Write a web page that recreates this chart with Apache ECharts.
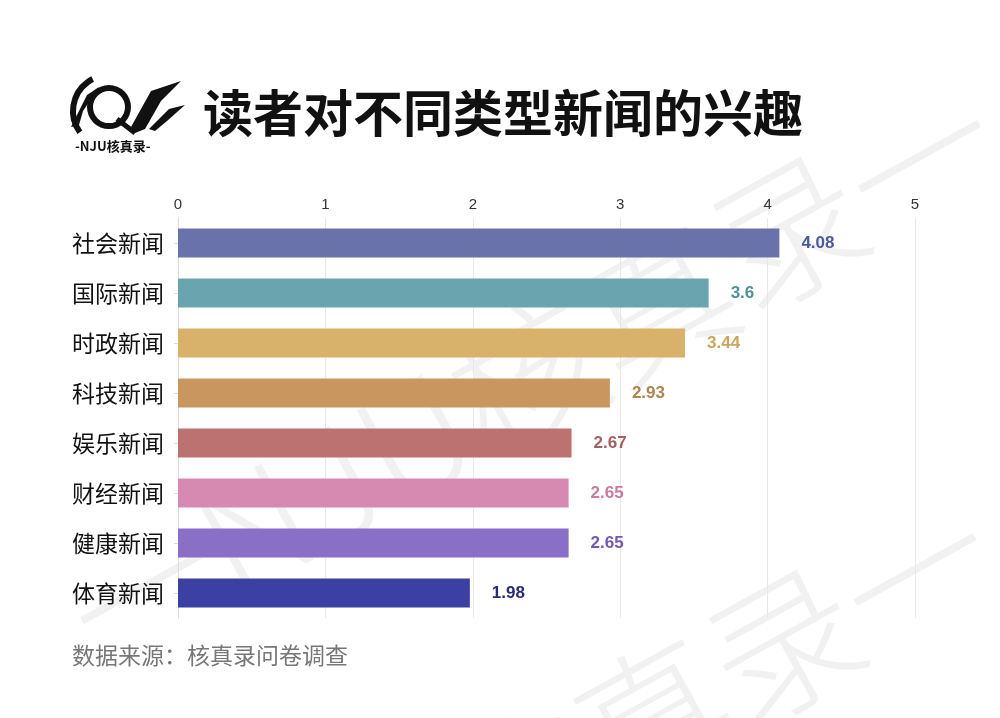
<!DOCTYPE html>
<html>
<head>
<meta charset="utf-8">
<style>
html,body{margin:0;padding:0;background:#fff;}
#chart{width:1000px;height:718px;}
</style>
<script src="https://cdn.jsdelivr.net/npm/echarts@6/dist/echarts.min.js"></script>
</head>
<body>
<div id="chart"></div>
<script>
const categories = ['社会新闻','国际新闻','时政新闻','科技新闻','娱乐新闻','财经新闻','健康新闻','体育新闻'];
const values = [4.08, 3.6, 3.44, 2.93, 2.67, 2.65, 2.65, 1.98];
const barColors = ['#6a72ab','#6aa4ae','#d8b26a','#c9965f','#bd7272','#d68ab2','#8a6fc6','#3c40a2'];
const labelColors = ['#4b5a9c','#4f9299','#c9a65c','#b08551','#a65f60','#c97aa1','#7556b0','#262c78'];
const xTicks = [0, 1, 2, 3, 4, 5];
const titleText = '读者对不同类型新闻的兴趣';
const sourceText = '数据来源：核真录问卷调查';

const chart = echarts.init(document.getElementById('chart'));
const cjk = '"Noto Sans CJK SC", sans-serif';

chart.setOption({
  backgroundColor: '#ffffff',
  animation: false,
  grid: { left: 178, right: 85, top: 218, bottom: 100 },
  xAxis: {
    type: 'value',
    position: 'top',
    min: xTicks[0],
    max: xTicks[xTicks.length - 1],
    interval: 1,
    axisLine: { show: false },
    axisTick: { show: false },
    axisLabel: { color: '#333', fontSize: 15, fontFamily: 'Liberation Sans, Arial, sans-serif', margin: 6 },
    splitLine: { show: true, lineStyle: { color: '#e8e8e8', width: 1 } }
  },
  yAxis: {
    type: 'category',
    data: categories,
    inverse: true,
    axisLine: { show: true, lineStyle: { color: '#dcdcdc' } },
    axisTick: { show: true, length: 4, alignWithLabel: true, lineStyle: { color: '#dcdcdc' } },
    axisLabel: { color: '#111', fontSize: 23, fontFamily: cjk, margin: 14 }
  },
  series: [{
    type: 'bar',
    data: values.map((v, i) => ({ value: v, itemStyle: { color: barColors[i] },
      label: { color: labelColors[i] } })),
    barWidth: 29,
    z: 3,
    label: {
      show: true,
      position: 'right',
      distance: 22,
      fontSize: 17,
      fontWeight: 'bold',
      fontFamily: 'Liberation Sans, Arial, sans-serif'
    }
  }],
  graphic: [
    // watermarks
    { type: 'text', z: -10, silent: true,
      x: 40, y: 560, rotation: Math.PI * 29 / 180,
      style: { text: '一NJU核真录一', font: '300 150px "Noto Sans CJK SC"', fill: 'rgba(0,0,0,0.055)' } },
    { type: 'text', z: -10, silent: true,
      x: 420, y: 760, rotation: Math.PI * 29 / 180,
      style: { text: '核真录一', font: '300 150px "Noto Sans CJK SC"', fill: 'rgba(0,0,0,0.055)' } },
    // logo
    { type: 'group', left: 70, top: 76, children: [
      { type: 'ring', shape: { cx: 40, cy: 26, r: 22, r0: 16 }, style: { fill: '#111' } },
      { type: 'arc', shape: { cx: 40, cy: 30, r: 36, startAngle: Math.PI * 0.8, endAngle: Math.PI * 1.35 },
        style: { stroke: '#111', lineWidth: 6, fill: null } },
      { type: 'line', shape: { x1: 48, y1: 38, x2: 66, y2: 52 }, style: { stroke: '#111', lineWidth: 5 } },
      { type: 'polygon', shape: { points: [[62,46],[82,10],[112,0],[92,20],[76,48],[66,52]] }, style: { fill: '#111' } },
      { type: 'polygon', shape: { points: [[80,48],[100,28],[116,24],[98,40],[86,50]] }, style: { fill: '#111' } },
      { type: 'polygon', shape: { points: [[2,46],[18,14],[30,6],[14,30],[10,44]] }, style: { fill: '#111' } },
      { type: 'text', x: 6, y: 58, style: { text: '-NJU核真录-', font: 'bold 13px "Noto Sans CJK SC"', fill: '#111' } }
    ]},
    // title
    { type: 'text', x: 203, y: 88,
      style: { text: titleText, font: 'bold 50px "Noto Sans CJK SC"', fill: '#111' } },
    // source
    { type: 'text', x: 72, y: 644,
      style: { text: sourceText, font: '23px "Noto Sans CJK SC"', fill: '#777' } }
  ]
});
</script>
</body>
</html>
